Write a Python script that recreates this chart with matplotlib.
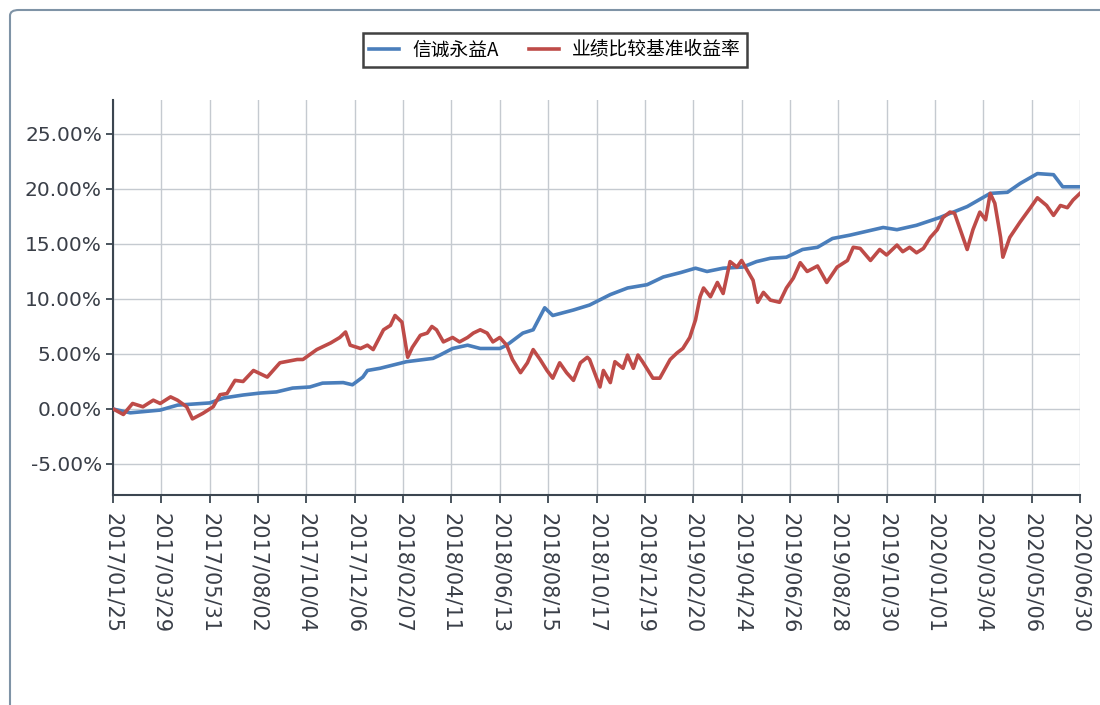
import matplotlib
matplotlib.use("Agg")
import matplotlib.pyplot as plt
from matplotlib.patches import FancyBboxPatch
from matplotlib.ticker import FuncFormatter
import numpy as np

plt.rcParams['font.family'] = ['DejaVu Sans', 'Noto Sans CJK SC']

# ---- data ----
tick_labels = ["2017/01/25", "2017/03/29", "2017/05/31", "2017/08/02", "2017/10/04",
               "2017/12/06", "2018/02/07", "2018/04/11", "2018/06/13", "2018/08/15",
               "2018/10/17", "2018/12/19", "2019/02/20", "2019/04/24", "2019/06/26",
               "2019/08/28", "2019/10/30", "2020/01/01", "2020/03/04", "2020/05/06",
               "2020/06/30"]
tick_days = [0, 42, 84, 126, 168, 210, 252, 294, 336, 378, 420, 462, 504, 546,
             588, 630, 672, 714, 756, 798, 840]

fund_name = "信诚永益A"
bench_name = "业绩比较基准收益率"

fund_days = [0, 15, 41, 56, 84, 96, 113, 128, 142, 156, 171, 182, 200, 208, 217,
             221, 232, 255, 278, 284, 295, 308, 319, 336, 342, 356, 365, 375, 382,
             400, 414, 432, 447, 464, 478, 493, 506, 516, 530, 547, 559, 571, 585,
             599, 612, 625, 640, 669, 681, 698, 718, 742, 762, 777, 788, 803, 817,
             825, 840]
fund_ret = [0.0, -0.35, -0.1, 0.35, 0.55, 1.0, 1.27, 1.45, 1.55, 1.9, 2.0, 2.35,
            2.4, 2.2, 2.9, 3.5, 3.7, 4.3, 4.6, 4.9, 5.5, 5.8, 5.5, 5.5, 5.8, 6.9,
            7.2, 9.2, 8.5, 9.0, 9.45, 10.4, 11.0, 11.3, 12.0, 12.4, 12.8, 12.5,
            12.8, 12.9, 13.4, 13.7, 13.8, 14.5, 14.7, 15.5, 15.8, 16.5, 16.3, 16.7,
            17.4, 18.4, 19.6, 19.7, 20.5, 21.4, 21.3, 20.2, 20.2]

bench_days = [0, 2, 9, 17, 26, 35, 41, 50, 56, 64, 69, 78, 87, 93, 99, 106, 113,
              122, 134, 145, 160, 165, 177, 189, 197, 202, 206, 215, 221, 226, 229,
              235, 241, 245, 251, 256, 260, 267, 273, 277, 281, 287, 295, 301, 308,
              313, 319, 325, 330, 336, 342, 347, 354, 360, 365, 371, 377, 382, 388,
              394, 400, 406, 412, 414, 423, 426, 432, 436, 443, 447, 452, 456, 460,
              469, 475, 484, 490, 495, 501, 506, 510, 513, 519, 525, 530, 536, 542,
              546, 551, 556, 560, 565, 571, 579, 585, 591, 597, 603, 612, 620, 629,
              638, 643, 649, 658, 666, 672, 681, 686, 692, 698, 704, 710, 716, 721,
              727, 731, 736, 742, 747, 753, 758, 762, 766, 771, 773, 779, 788, 797,
              803, 811, 817, 823, 829, 834, 840]
bench_ret = [0.0, -0.1, -0.5, 0.5, 0.2, 0.8, 0.5, 1.1, 0.8, 0.2, -0.9, -0.4, 0.2,
             1.3, 1.4, 2.6, 2.5, 3.5, 2.9, 4.2, 4.5, 4.5, 5.4, 6.0, 6.5, 7.0, 5.8,
             5.5, 5.8, 5.4, 6.0, 7.2, 7.6, 8.5, 7.9, 4.7, 5.6, 6.7, 6.9, 7.5, 7.2,
             6.1, 6.5, 6.1, 6.5, 6.9, 7.2, 6.9, 6.1, 6.5, 5.8, 4.5, 3.3, 4.2, 5.4,
             4.5, 3.5, 2.8, 4.2, 3.3, 2.6, 4.2, 4.7, 4.5, 2.0, 3.5, 2.4, 4.3, 3.7,
             4.9, 3.7, 4.9, 4.3, 2.8, 2.8, 4.5, 5.1, 5.5, 6.5, 8.1, 10.2, 11.0,
             10.2, 11.5, 10.5, 13.4, 12.9, 13.5, 12.6, 11.7, 9.7, 10.6, 9.9, 9.7,
             11.0, 11.9, 13.3, 12.5, 13.0, 11.5, 12.9, 13.5, 14.7, 14.6, 13.5, 14.5,
             14.0, 14.9, 14.3, 14.7, 14.2, 14.6, 15.6, 16.3, 17.4, 17.9, 17.8, 16.3,
             14.5, 16.3, 17.9, 17.2, 19.6, 18.7, 15.6, 13.8, 15.6, 17.0, 18.3, 19.2,
             18.5, 17.6, 18.5, 18.3, 19.0, 19.6]

y_ticks = [-5, 0, 5, 10, 15, 20, 25]

# ---- figure ----
W, H = 1100, 705
fig = plt.figure(figsize=(W / 100, H / 100), dpi=100)
fig.patch.set_facecolor("white")

# outer rounded frame (only top/left visible)
frame = FancyBboxPatch((10 / W, -0.2), 1.3, (H - 10) / H + 0.2,
                       boxstyle="round,pad=0,rounding_size=0.008",
                       transform=fig.transFigure, facecolor="none",
                       edgecolor="#7f93a6", linewidth=1.5)
fig.patches.append(frame)

ax = fig.add_axes([113 / W, 1 - 495 / H, (1080 - 113) / W, (495 - 100) / H])
ax.set_facecolor("white")

blue = "#4a7ebb"
red = "#be4b48"
ax.plot(fund_days, fund_ret, color=blue, lw=2.6, label=fund_name, zorder=3)
ax.plot(bench_days, bench_ret, color=red, lw=2.6, label=bench_name, zorder=4)

ax.set_xlim(0, 840)
ax.set_ylim(-7.82, 28.09)
ax.set_yticks(y_ticks)
ax.yaxis.set_major_formatter(FuncFormatter(lambda v, p: f"{v:.2f}%"))
ax.set_xticks(tick_days)
ax.set_xticklabels(tick_labels, rotation=270, va="top", ha="center")

ax.grid(True, color="#c5cad0", lw=1.0, zorder=0)
for s in ["top", "right"]:
    ax.spines[s].set_visible(False)
for s in ["left", "bottom"]:
    ax.spines[s].set_color("#3c4650")
    ax.spines[s].set_linewidth(1.5)

ax.tick_params(axis="y", direction="out", length=5, width=1.3, color="#3c4650",
               labelsize=14.5, labelcolor="#3a3f48", pad=3)
ax.tick_params(axis="x", direction="out", length=6, width=1.3, color="#3c4650",
               labelsize=15, labelcolor="#3a3f48", pad=7)

leg = fig.legend(loc="center", bbox_to_anchor=(555 / W, 1 - 50 / H), ncol=2,
                 frameon=True, fancybox=False, handlelength=1.6,
                 columnspacing=1.6, handletextpad=0.7, borderpad=0.35,
                 prop={'family': ['Noto Sans CJK SC', 'DejaVu Sans'], 'size': 13.5})
leg.get_frame().set_edgecolor("#111111")
leg.get_frame().set_linewidth(1.8)

fig.savefig("out.png", dpi=100, facecolor="white")
